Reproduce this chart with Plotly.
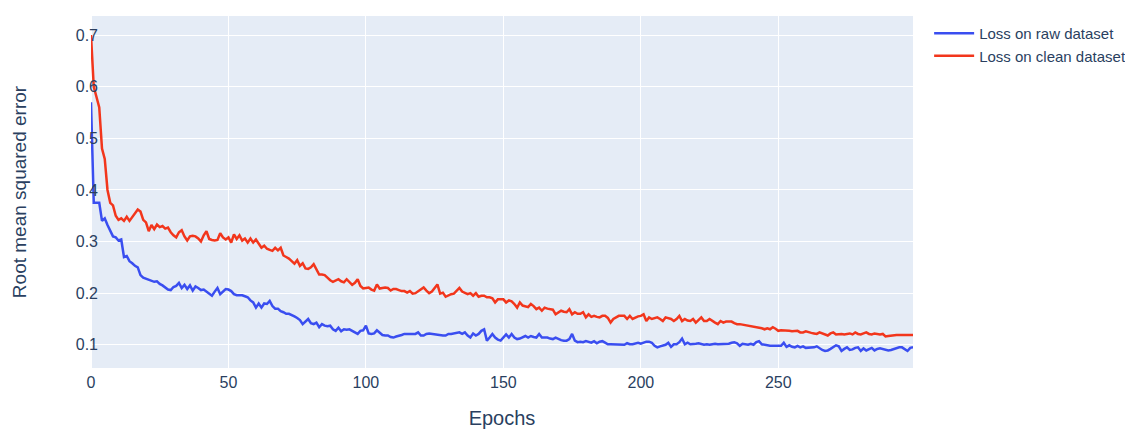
import plotly.graph_objects as go

epochs = list(range(300))

raw_loss = [
    0.570, 0.375, 0.375, 0.375, 0.340, 0.345, 0.332, 0.320, 0.310, 0.308,
    0.302, 0.304, 0.270, 0.272, 0.262, 0.258, 0.253, 0.250, 0.235, 0.230,
    0.228, 0.226, 0.224, 0.222, 0.223, 0.218, 0.215, 0.211, 0.207, 0.206,
    0.212, 0.214, 0.220, 0.210, 0.216, 0.208, 0.215, 0.205, 0.213, 0.210,
    0.206, 0.207, 0.203, 0.200, 0.195, 0.203, 0.210, 0.198, 0.204, 0.208,
    0.207, 0.204, 0.198, 0.196, 0.196, 0.196, 0.194, 0.192, 0.186, 0.182,
    0.172, 0.180, 0.172, 0.180, 0.179, 0.185, 0.175, 0.170, 0.170, 0.165,
    0.163, 0.160, 0.160, 0.158, 0.155, 0.152, 0.148, 0.140, 0.146, 0.150,
    0.142, 0.140, 0.143, 0.134, 0.140, 0.137, 0.136, 0.137, 0.130, 0.127,
    0.133, 0.126, 0.130, 0.129, 0.130, 0.127, 0.124, 0.121, 0.127, 0.128,
    0.137, 0.122, 0.121, 0.122, 0.128, 0.123, 0.119, 0.118, 0.118, 0.115,
    0.114, 0.116, 0.117, 0.119, 0.121, 0.121, 0.122, 0.122, 0.121, 0.124,
    0.118, 0.118, 0.121, 0.122, 0.121, 0.120, 0.120, 0.119, 0.118, 0.118,
    0.121, 0.121, 0.122, 0.123, 0.124, 0.121, 0.124, 0.118, 0.114, 0.122,
    0.118, 0.121, 0.127, 0.130, 0.108, 0.114, 0.121, 0.114, 0.110, 0.108,
    0.113, 0.120, 0.114, 0.121, 0.114, 0.111, 0.112, 0.114, 0.117, 0.114,
    0.117, 0.115, 0.114, 0.121, 0.114, 0.114, 0.114, 0.112, 0.111, 0.114,
    0.111, 0.109, 0.108, 0.108, 0.111, 0.121, 0.108, 0.105, 0.106, 0.105,
    0.107, 0.106, 0.104, 0.107, 0.103, 0.106, 0.107, 0.104, 0.101, 0.101,
    0.101, 0.101, 0.101, 0.101, 0.100, 0.103, 0.101, 0.101, 0.102, 0.104,
    0.102, 0.104, 0.106, 0.106, 0.104, 0.098, 0.095, 0.097, 0.099, 0.100,
    0.104, 0.096, 0.101, 0.101, 0.105, 0.112, 0.101, 0.104, 0.101, 0.101,
    0.102, 0.103, 0.101, 0.100, 0.101, 0.100, 0.101, 0.102, 0.101, 0.101,
    0.101, 0.101, 0.102, 0.104, 0.105, 0.103, 0.098, 0.102, 0.101, 0.100,
    0.102, 0.100, 0.105, 0.107, 0.101, 0.100, 0.098, 0.098, 0.098, 0.098,
    0.098, 0.098, 0.104, 0.096, 0.099, 0.096, 0.095, 0.098, 0.095, 0.097,
    0.094, 0.094, 0.095, 0.095, 0.097, 0.093, 0.090, 0.088, 0.089, 0.092,
    0.095, 0.099, 0.097, 0.088, 0.092, 0.095, 0.090, 0.091, 0.094, 0.095,
    0.088, 0.093, 0.089, 0.091, 0.094, 0.089, 0.092, 0.093, 0.092, 0.091,
    0.089, 0.090, 0.092, 0.094, 0.095, 0.095, 0.092, 0.088, 0.094, 0.095,
]

clean_loss = [
    0.700, 0.600, 0.580, 0.560, 0.480, 0.460, 0.400, 0.375, 0.370, 0.350,
    0.342, 0.345, 0.340, 0.348, 0.340, 0.347, 0.355, 0.362, 0.358, 0.342,
    0.337, 0.320, 0.332, 0.324, 0.333, 0.328, 0.330, 0.325, 0.327, 0.318,
    0.312, 0.308, 0.318, 0.322, 0.310, 0.302, 0.310, 0.311, 0.310, 0.306,
    0.300, 0.312, 0.320, 0.305, 0.303, 0.302, 0.303, 0.316, 0.308, 0.304,
    0.308, 0.298, 0.314, 0.305, 0.312, 0.302, 0.306, 0.298, 0.306, 0.298,
    0.304, 0.295, 0.288, 0.292, 0.286, 0.284, 0.282, 0.288, 0.283, 0.288,
    0.273, 0.270, 0.267, 0.262, 0.257, 0.264, 0.253, 0.258, 0.248, 0.247,
    0.250, 0.256, 0.245, 0.236, 0.236, 0.235, 0.230, 0.225, 0.222, 0.224,
    0.227, 0.223, 0.221, 0.227, 0.221, 0.216, 0.220, 0.227, 0.214, 0.209,
    0.210, 0.211, 0.207, 0.205, 0.217, 0.209, 0.210, 0.211, 0.210, 0.205,
    0.208, 0.208, 0.206, 0.204, 0.204, 0.201, 0.204, 0.199, 0.200, 0.204,
    0.208, 0.211, 0.205, 0.200, 0.203, 0.210, 0.217, 0.199, 0.201, 0.193,
    0.196, 0.198, 0.199, 0.205, 0.210, 0.203, 0.200, 0.198, 0.200, 0.195,
    0.200, 0.193, 0.195, 0.195, 0.192, 0.192, 0.190, 0.182, 0.188, 0.188,
    0.188, 0.182, 0.186, 0.184, 0.179, 0.172, 0.182, 0.176, 0.174, 0.173,
    0.179, 0.175, 0.169, 0.172, 0.166, 0.172, 0.170, 0.169, 0.168, 0.159,
    0.163, 0.166, 0.164, 0.163, 0.169, 0.159, 0.163, 0.160, 0.160, 0.163,
    0.153, 0.159, 0.154, 0.156, 0.154, 0.153, 0.156, 0.156, 0.152, 0.143,
    0.150, 0.153, 0.156, 0.156, 0.156, 0.150, 0.156, 0.150, 0.153, 0.155,
    0.156, 0.159, 0.146, 0.153, 0.150, 0.152, 0.153, 0.150, 0.146, 0.153,
    0.151, 0.150, 0.146, 0.150, 0.156, 0.146, 0.150, 0.147, 0.146, 0.150,
    0.143, 0.148, 0.153, 0.146, 0.146, 0.150, 0.146, 0.143, 0.140, 0.146,
    0.143, 0.145, 0.145, 0.145, 0.142, 0.140, 0.140, 0.139, 0.139, 0.138,
    0.137, 0.135, 0.134, 0.134, 0.132, 0.130, 0.132, 0.130, 0.134, 0.131,
    0.127, 0.128, 0.128, 0.128, 0.127, 0.126, 0.126, 0.127, 0.124, 0.124,
    0.126, 0.124, 0.123, 0.122, 0.121, 0.124, 0.122, 0.121, 0.118, 0.122,
    0.124, 0.120, 0.121, 0.121, 0.120, 0.121, 0.122, 0.120, 0.124, 0.121,
    0.120, 0.122, 0.124, 0.121, 0.120, 0.122, 0.121, 0.120, 0.121, 0.116,
    0.117, 0.118, 0.118, 0.119, 0.119, 0.119, 0.119, 0.119, 0.119, 0.119,
]

series_names = ["Loss on raw dataset", "Loss on clean dataset"]
series_colors = ["#3a4ef0", "#f2361c"]

fig = go.Figure()
fig.add_trace(go.Scatter(x=epochs, y=raw_loss, mode="lines", name=series_names[0],
                         line=dict(color=series_colors[0], width=2.5)))
fig.add_trace(go.Scatter(x=epochs, y=clean_loss, mode="lines", name=series_names[1],
                         line=dict(color=series_colors[1], width=2.5)))

fig.update_layout(
    template="plotly",
    width=1133, height=429,
    margin=dict(l=83, r=228, t=8, b=69),
    font=dict(family="Liberation Sans, Arial, sans-serif", size=16, color="#2a3f5f"),
    legend=dict(xref="container", yref="container", x=0.813, y=0.979,
                xanchor="left", yanchor="top", font=dict(size=15),
                tracegroupgap=0, itemwidth=40),
    xaxis=dict(title=dict(text="Epochs", font=dict(size=20), standoff=20),
               range=[0, 299], tickvals=[0, 50, 100, 150, 200, 250],
               ticklabelstandoff=3),
    yaxis=dict(title=dict(text="Root mean squared error", font=dict(size=19), standoff=44),
               range=[0.055, 0.737], tickvals=[0.1, 0.2, 0.3, 0.4, 0.5, 0.6, 0.7],
               ticklabelstandoff=-8),
)

fig.write_html("out.html")
